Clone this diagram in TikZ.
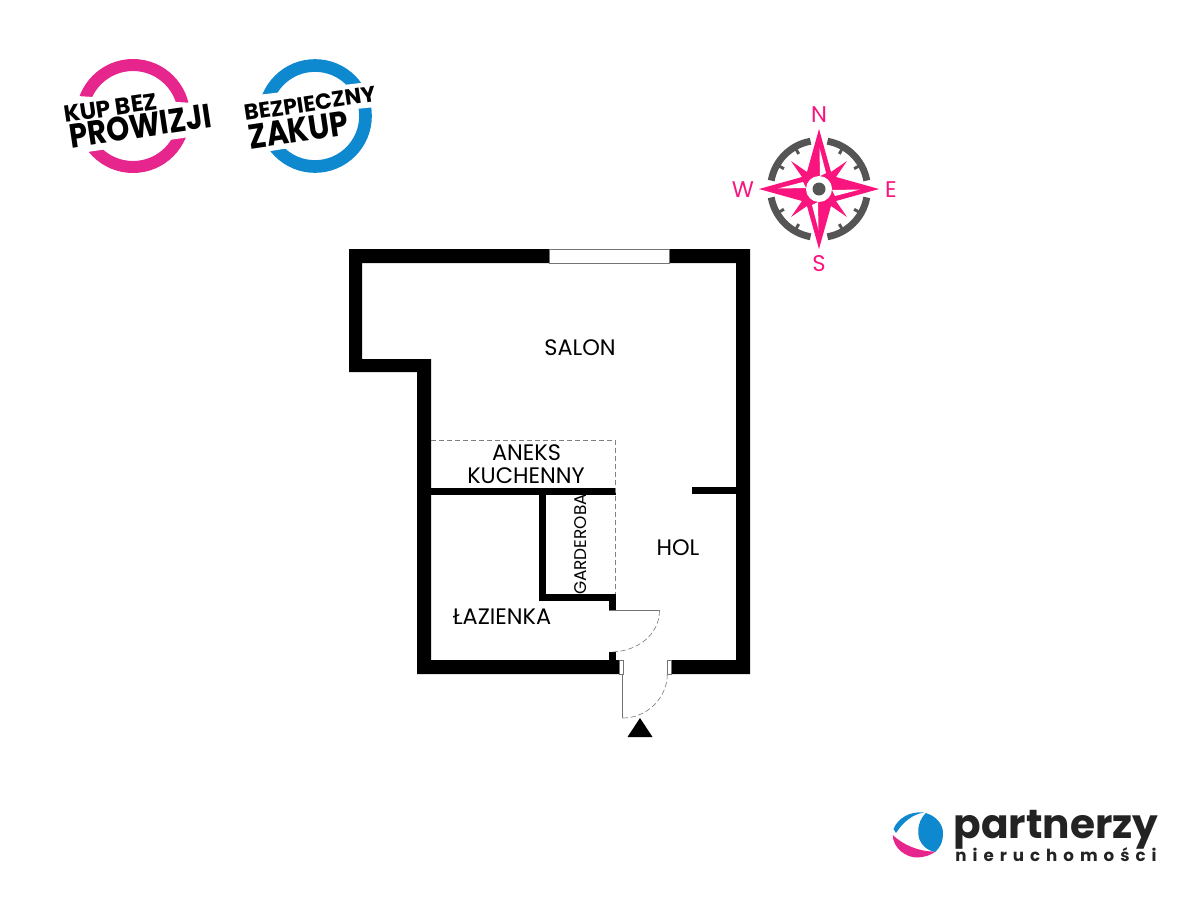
\documentclass[tikz,border=0pt]{standalone}
\usepackage{fontspec}
\setmainfont{Poppins}
\newfontfamily\widefont[LetterSpace=36]{Poppins}
\definecolor{stamppink}{RGB}{230,38,141}
\definecolor{stampblue}{RGB}{14,137,207}
\definecolor{rosepink}{RGB}{250,20,125}
\definecolor{rosegrey}{RGB}{85,85,85}
\definecolor{logotext}{RGB}{35,35,35}
\tikzset{
	wall/.style={fill=black,draw=none},
	thinline/.style={draw=black!55,line width=0.5pt},
	dashline/.style={draw=black!50,line width=0.5pt,dash pattern=on 4pt off 2pt},
	room/.style={inner sep=0.75pt,font=\fontsize{16.8}{20}\selectfont,align=center},
	rose/.style={inner sep=0.75pt,text=rosepink,font=\fontsize{17}{20}\selectfont},
	stamp/.style={inner sep=0pt,rotate=8.5},
}
\begin{document}
\begin{tikzpicture}[x=0.75pt,y=0.75pt,yscale=-1,xscale=1]
	\useasboundingbox (0,0) rectangle (1200,900);
	% walls
	\fill [wall] (349,249) -- (750,249) -- (750,674) -- (667,674) -- (667,660) -- (736,660) -- (736,263) -- (362,263) -- (362,359) -- (431,359) -- (431,660) -- (623,660) -- (623,674) -- (417,674) -- (417,372) -- (349,372) -- cycle;
	\fill [wall] (431,487.5) rectangle (616,495);
	\fill [wall] (539,495) rectangle (546,601);
	\fill [wall] (539,594) rectangle (616,601);
	\fill [wall] (609,594) rectangle (616,610);
	\fill [wall] (609,652) rectangle (616,660);
	\fill [wall] (692,487) rectangle (736,494);
	\draw [thinline,fill=white] (549,249) rectangle (669,263);
	\draw [thinline,fill=white] (619,660) rectangle (623,674);
	\draw [thinline,fill=white] (667,660) rectangle (671,674);
	% dashed edge of the kitchen
	\draw [dashline] (431,440) -- (615.5,440) -- (615.5,594);
	% doors
	\draw [thinline] (609,610.5) -- (659.5,610.5);
	\draw [dashline] (659.5,610.5) .. controls (659.5,634) and (638,652) .. (610,652);
	\draw [thinline] (622.7,674) -- (622.7,718);
	\draw [dashline] (622.7,718) .. controls (647,718) and (667.3,698) .. (667.3,674);
	\fill [wall] (640,718) -- (652.5,737) -- (627.5,737) -- cycle;
	% rooms
	\node [room] (salon) at (580,347.5) {SALON};
	\node [room] (aneks) at (526.5,453) {ANEKS};
	\node [room] (kuchenny) at (526,476) {KUCHENNY};
	\node [room] (hol) at (678,547.5) {HOL};
	\node [room] (lazienka) at (502,617) {ŁAZIENKA};
	\node [room,rotate=90,font=\fontsize{12.7}{15}\selectfont] (garderoba) at (581,544.5) {GARDEROBA};
	% compass
	\begin{scope}[shift={(819,189)}]
		\foreach \a in {0,90,180,270} {
			\draw [rosegrey,line width=5.2pt] (\a+10:48.5) arc (\a+10:\a+80:48.5);
			\draw [rosegrey,line width=2.2pt] (\a+30:46) -- (\a+30:40.5);
			\draw [rosegrey,line width=2.2pt] (\a+60:46) -- (\a+60:40.5);
		}
		\foreach \a in {0,90,180,270}
			\fill [rosepink,rotate=\a] (0,-60) -- (12,-17) -- (28,-28) -- (17,-12) -- (60,0) -- (0,0) -- cycle;
		\foreach \a in {0,90,180,270}
			\fill [white,rotate=\a] (0.5,-41) -- (7,-16) -- (1,-13) -- cycle;
		\fill [white] (0,0) circle (13);
		\fill [rosegrey] (0,0) circle (6.5);
	\end{scope}
	\node [rose] (north) at (819,114.5) {N};
	\node [rose] (south) at (819,263.5) {S};
	\node [rose] (west) at (743,190) {W};
	\node [rose] (east) at (891,190) {E};
	% stamps
	\draw [stamppink,line width=9pt] (133,116) circle (51);
	\fill [white] (60,95) -- (210,104) -- (210,134) -- (60,156) -- cycle;
	\node [stamp,font=\bfseries\fontsize{17.5}{20}\selectfont] (kupbez) at (110.5,108) {KUP BEZ};
	\node [stamp,font=\bfseries\fontsize{22}{26}\selectfont] (prowizji) at (140.5,126) {\scalebox{1}[1.15]{PROWIZJI}};
	\draw [stampblue,line width=9.5pt] (315,116) circle (50.5);
	\fill [white] (240,97) -- (395,79) -- (395,105) -- (356,109) -- (340,142) -- (283,149) -- (240,156) -- cycle;
	\node [stamp,font=\bfseries\fontsize{16.5}{20}\selectfont] (bezpieczny) at (310,103.5) {BEZPIECZNY};
	\node [stamp,font=\bfseries\fontsize{22.5}{26}\selectfont] (zakup) at (298.5,130) {\scalebox{1}[1.15]{ZAKUP}};
	% logo
	\fill [stampblue] (925.7,813) .. controls (936,816) and (943,824) .. (943,833) .. controls (943,842) and (940,848) .. (935,852) .. controls (925,850) and (918,842) .. (918.3,832) .. controls (918,824) and (921,818) .. (925.7,813) -- cycle;
	\fill [stampblue] (893.5,829) .. controls (898,818) and (910,811) .. (924,812.5) .. controls (913,814) and (903,822) .. (896,833) -- cycle;
	\fill [stamppink] (892.7,835) .. controls (893,848) and (906,858) .. (918,857.5) .. controls (925,857) and (931,855) .. (935.5,851.5) .. controls (920,852) and (903,845) .. (892.7,835) -- cycle;
	\node [inner sep=0pt,anchor=base,text=logotext,font=\bfseries\fontsize{30.5}{34}\selectfont] (partnerzy) at (1056,838) {partnerzy};
	\node [inner sep=0pt,anchor=base,text=logotext,font=\widefont\bfseries\fontsize{12.5}{14}\selectfont] (nieruchomosci) at (1056,861.5) {nieruchomości};
\end{tikzpicture}
\end{document}
